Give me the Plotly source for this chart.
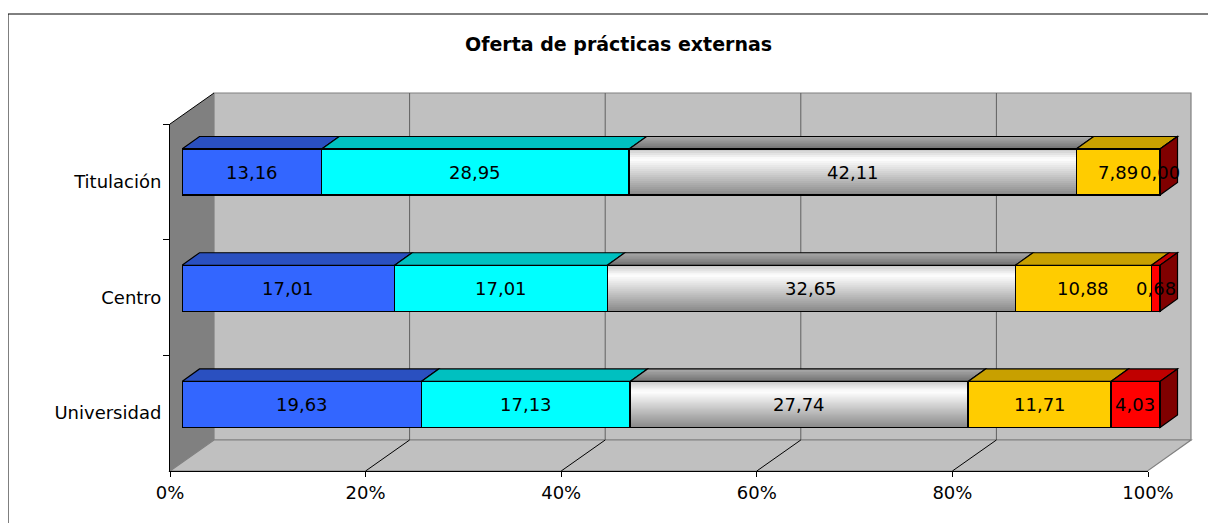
import plotly.graph_objects as go

# ---------------- data ----------------
categories = ["Titulación", "Centro", "Universidad"]
series_names = ["Serie 1", "Serie 2", "Serie 3", "Serie 4", "Serie 5"]
serie1 = [13.16, 17.01, 19.63]
serie2 = [28.95, 17.01, 17.13]
serie3 = [42.11, 32.65, 27.74]
serie4 = [7.89, 10.88, 11.71]
serie5 = [0.00, 0.68, 4.03]
x_ticks = [0, 20, 40, 60, 80, 100]
title_text = "Oferta de prácticas externas"

# ---------------- style ----------------
W, H = 1216, 523
OX, OY = 8, 8   # page offset of the figure (default body margin)
FONT = "DejaVu Sans"
front_colors = ["#3366FF", "#00FFFF", "rgba(0,0,0,0)", "#FFCC00", "#FF0000"]
top_colors = ["#2A50C0", "#00C0C0", None, "#C8A000", "#C00000"]
side_color = "#800000"


def px(x):
    return (x - OX) / W


def py(y):
    return 1 - (y - OY) / H


series = [serie1, serie2, serie3, serie4, serie5]
ypos = list(range(len(categories)))

BARGAP = 0.604
HALF = (1 - BARGAP) / 2
DX = 1.79      # depth offset in percent units
DY = 0.1075    # depth offset in category units

fig = go.Figure()

for name, vals, col in zip(series_names, series, front_colors):
    fig.add_trace(go.Bar(
        name=name, x=vals, y=ypos, orientation="h",
        marker=dict(color=col, line=dict(color="black", width=1.4)),
        hoverinfo="skip", showlegend=False,
    ))

# dummy trace for the front-plane axes
fig.add_trace(go.Scatter(x=[50] * len(categories), y=categories, mode="markers",
                         marker=dict(opacity=0), xaxis="x2", yaxis="y2",
                         hoverinfo="skip", showlegend=False))

shapes = []
annotations = []

# ---- chart border and 3D walls (paper layer, below everything) ----
shapes.append(dict(type="rect", xref="paper", yref="paper", x0=px(8), x1=px(1240),
                   y0=py(560), y1=py(14), line=dict(color="black", width=1),
                   fillcolor="white", layer="below"))
shapes.append(dict(type="rect", xref="paper", yref="paper", x0=px(214), x1=px(1191),
                   y0=py(440), y1=py(93), line=dict(color="#808080", width=1.2),
                   fillcolor="#C0C0C0", layer="below"))
shapes.append(dict(type="path", xref="paper", yref="paper",
                   path=f"M {px(170)},{py(471)} L {px(214)},{py(440)} L {px(1191)},{py(440)} L {px(1147.5)},{py(471)} Z",
                   line=dict(color="#808080", width=1.2), fillcolor="#C0C0C0", layer="below"))
shapes.append(dict(type="path", xref="paper", yref="paper",
                   path=f"M {px(170)},{py(124)} L {px(214)},{py(93)} L {px(214)},{py(440)} L {px(170)},{py(471)} Z",
                   line=dict(width=0), fillcolor="#808080", layer="below"))
shapes.append(dict(type="line", xref="paper", yref="paper", x0=px(170), y0=py(124),
                   x1=px(214), y1=py(93), line=dict(color="black", width=1), layer="below"))

# back-wall gridlines and floor diagonals anchored on the tick values
for t in x_ticks[1:-1]:
    shapes.append(dict(type="line", xref="x2", yref="paper", xsizemode="pixel", xanchor=t,
                       x0=44, x1=44, y0=py(440), y1=py(93),
                       line=dict(color="#606060", width=1), layer="below"))
for t in x_ticks[1:]:
    shapes.append(dict(type="line", xref="x2", yref="paper", xsizemode="pixel", xanchor=t,
                       x0=0, x1=44, y0=py(471), y1=py(440),
                       line=dict(color="black", width=1), layer="below"))


def fmt(v):
    return f"{v:.2f}".replace(".", ",")


def lerp_grey(t, stops):
    for (t0, c0), (t1, c1) in zip(stops[:-1], stops[1:]):
        if t <= t1:
            c = int(round(c0 + (c1 - c0) * (t - t0) / (t1 - t0)))
            return f"rgb({c},{c},{c})"
    c = stops[-1][1]
    return f"rgb({c},{c},{c})"


FRONT_STOPS = [(0.0, 200), (0.22, 255), (1.0, 136)]
TOP_STOPS = [(0.0, 112), (1.0, 172)]   # front edge -> back edge

N_STRIPS = 23
M_STRIPS = 8
for i in ypos:
    total = sum(s[i] for s in series)
    cum = 0.0
    top = i - HALF
    bot = i + HALF
    for k, s in enumerate(series):
        a = cum
        b = cum + s[i] / total * 100
        cum = b
        face = f"M {a},{top} L {a + DX},{top - DY} L {b + DX},{top - DY} L {b},{top} Z"
        if top_colors[k] is None:
            # graded top face (back lighter, front darker)
            for j in range(M_STRIPS):
                d = 1 - j / M_STRIPS
                shapes.append(dict(type="path", xref="x", yref="y",
                                   path=f"M {a},{top} L {a + d * DX},{top - d * DY} L {b + d * DX},{top - d * DY} L {b},{top} Z",
                                   fillcolor=lerp_grey(d - 0.5 / M_STRIPS, TOP_STOPS),
                                   line=dict(width=0), layer="below"))
            shapes.append(dict(type="path", xref="x", yref="y", path=face,
                               fillcolor="rgba(0,0,0,0)", line=dict(color="black", width=1.2),
                               layer="below"))
            # graded front face
            for j in range(N_STRIPS):
                y0 = top + (bot - top) * j / N_STRIPS
                shapes.append(dict(type="rect", xref="x", yref="y", x0=a, x1=b,
                                   y0=y0, y1=bot,
                                   fillcolor=lerp_grey((j + 0.5) / N_STRIPS, FRONT_STOPS),
                                   line=dict(width=0), layer="below"))
        else:
            shapes.append(dict(type="path", xref="x", yref="y", path=face,
                               fillcolor=top_colors[k], line=dict(color="black", width=1.2),
                               layer="below"))
        annotations.append(dict(x=(a + b) / 2, y=i, xref="x", yref="y", text=fmt(s[i]),
                                xanchor="center", yanchor="middle",
                                showarrow=False, font=dict(family=FONT, size=18, color="black")))
    # right side face
    shapes.append(dict(type="path", xref="x", yref="y",
                       path=f"M {cum},{top} L {cum + DX},{top - DY} L {cum + DX},{bot - DY} L {cum},{bot} Z",
                       fillcolor=side_color, line=dict(color="black", width=1.2), layer="below"))

annotations.append(dict(x=px(618.5), y=py(44), xref="paper", yref="paper",
                        xanchor="center", yanchor="middle",
                        text=f"<b>{title_text}</b>", showarrow=False,
                        font=dict(family=FONT, size=19, color="black")))

fig.update_layout(
    template="none",
    width=W, height=H, autosize=False,
    margin=dict(l=0, r=0, t=0, b=0, pad=0, autoexpand=False),
    paper_bgcolor="white", plot_bgcolor="rgba(0,0,0,0)",
    barmode="stack", barnorm="percent", bargap=BARGAP,
    showlegend=False,
    font=dict(family=FONT, size=18, color="black"),
    xaxis=dict(domain=[px(182), px(182 + 978 * 1.035)], range=[0, 103.5], anchor="y",
               visible=False, fixedrange=True, automargin=False),
    yaxis=dict(domain=[py(462.6), py(113.9)], range=[len(categories) - 0.5, -0.5],
               anchor="x", visible=False, fixedrange=True, automargin=False),
    xaxis2=dict(domain=[px(170), px(1148)], range=[0, 100], anchor="y2",
                tickvals=x_ticks, ticktext=[f"{t}%" for t in x_ticks],
                ticks="outside", ticklen=5, tickcolor="black", showline=True,
                linecolor="black", linewidth=1, showgrid=False, zeroline=False,
                automargin=False,
                tickfont=dict(family=FONT, size=18, color="black"), fixedrange=True),
    yaxis2=dict(domain=[py(471), py(124)], anchor="x2", type="category",
                categoryorder="array", categoryarray=categories,
                range=[len(categories) - 0.5, -0.5], tickson="boundaries",
                ticks="outside", ticklen=6, tickcolor="black", showline=True,
                linecolor="black", linewidth=1, showgrid=False, zeroline=False,
                automargin=False, ticklabelstandoff=4,
                tickfont=dict(family=FONT, size=18, color="black"), fixedrange=True),
    shapes=shapes,
    annotations=annotations,
)

fig.write_html("out.html")
